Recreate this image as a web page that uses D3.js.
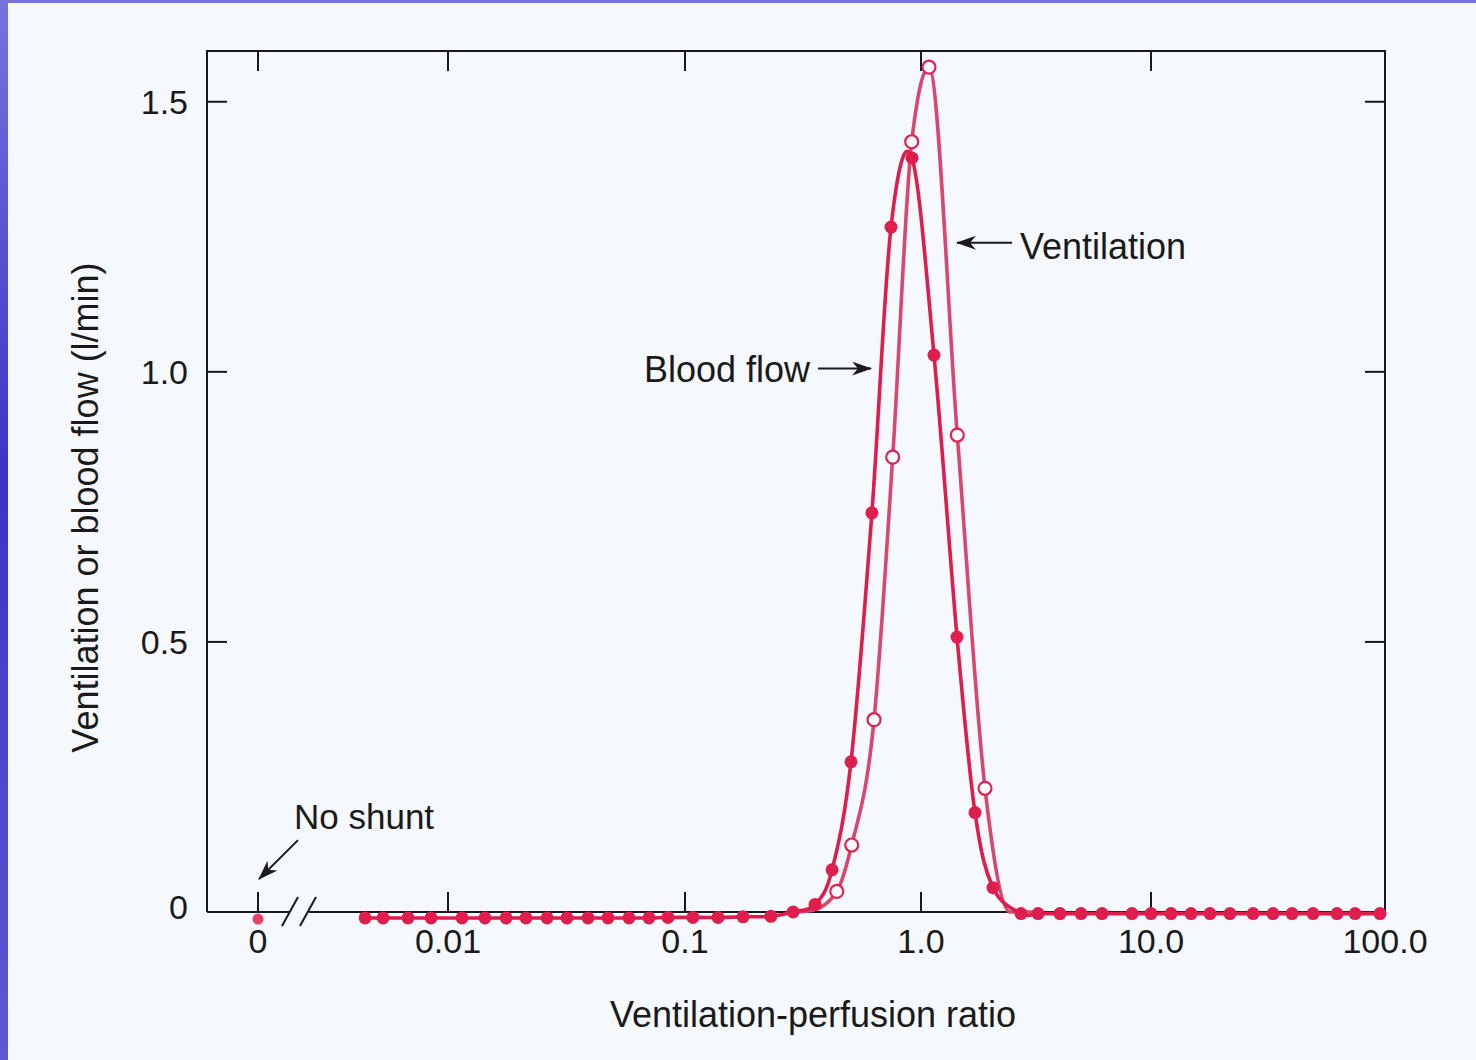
<!DOCTYPE html>
<html>
<head>
<meta charset="utf-8">
<script src="https://cdn.jsdelivr.net/npm/d3@7"></script>
<style>
  body { margin: 0; background: #f5f8fc; }
  svg { display: block; }
  text { font-family: "Liberation Sans", Arial, sans-serif; fill: #1a1a1a; }
</style>
</head>
<body>
<svg></svg>
<script>
// compartments (V/Q ratio)
var ratio = [0.00447, 0.00532, 0.00678, 0.00848, 0.01146, 0.01432, 0.01758, 0.02133, 0.02618, 0.03177,
  0.03898, 0.04731, 0.05804, 0.07047, 0.08475, 0.1081, 0.1380, 0.1762, 0.2312, 0.2871,
  0.3558, 0.4198, 0.5050, 0.6194, 0.7464, 0.9160, 1.139, 1.434, 1.717, 2.056,
  2.722, 3.227, 4.021, 4.963, 6.124, 8.266, 10.0, 12.18, 14.83, 17.87,
  21.75, 27.30, 33.21, 40.07, 49.24, 62.33, 74.50, 95.2];

// blood flow (l/min), filled dots
var bloodFlow = [-0.011, -0.011, -0.011, -0.011, -0.011, -0.011, -0.011, -0.011, -0.011, -0.011,
  -0.011, -0.011, -0.011, -0.011, -0.010, -0.010, -0.010, -0.009, -0.008, 0.0,
  0.014, 0.078, 0.278, 0.739, 1.268, 1.396, 1.031, 0.509, 0.184, 0.045,
  -0.003, -0.003, -0.003, -0.003, -0.003, -0.003, -0.003, -0.003, -0.003, -0.003,
  -0.003, -0.003, -0.003, -0.003, -0.003, -0.003, -0.003, -0.003];

// ventilation (l/min), open circles where it is above zero
var ventRatio = [0.2871, 0.345, 0.4397, 0.5085, 0.6324, 0.7586, 0.9133, 1.083, 1.438, 1.898, 2.438, 3.29];
var ventilation = [0.0, 0.003, 0.038, 0.124, 0.356, 0.842, 1.426, 1.564, 0.883, 0.229, 0.0, 0.0];

var shuntFlow = -0.013;   // the point at V/Q = 0

var xTicks = [0.01, 0.1, 1, 10, 100];
var xTickLabels = ["0.01", "0.1", "1.0", "10.0", "100.0"];
var yTicks = [0, 0.5, 1.0, 1.5];
var yTickLabels = ["0", "0.5", "1.0", "1.5"];

var width = 1476, height = 1060;
var plot = { left: 207, right: 1385, top: 51, bottom: 912 };
var zeroX = plot.left + 51;   // where "0" sits on the broken axis

var svg = d3.select('svg').attr('width', width).attr('height', height);

// blue slide edge on the left and top
var defs = svg.append('defs');
var grad = defs.append('linearGradient')
  .attr('id', 'edge').attr('x1', 0).attr('y1', 0).attr('x2', 0).attr('y2', 1);
grad.append('stop').attr('offset', '0%').attr('stop-color', '#7474dc');
grad.append('stop').attr('offset', '45%').attr('stop-color', '#3a34c6');
grad.append('stop').attr('offset', '100%').attr('stop-color', '#5c5ad2');

svg.append('rect').attr('width', width).attr('height', height).attr('fill', 'url(#edge)');
svg.append('rect').attr('x', 8).attr('y', 3).attr('width', width - 8).attr('height', height - 3)
  .attr('fill', '#f5f8fc');

var marker = defs.append('marker')
  .attr('id', 'head')
  .attr('viewBox', '0 0 20 14')
  .attr('refX', 19).attr('refY', 7)
  .attr('markerWidth', 20).attr('markerHeight', 14)
  .attr('markerUnits', 'userSpaceOnUse')
  .attr('orient', 'auto');
marker.append('path').attr('d', 'M0,0 L20,7 L0,14 L6,7 Z').attr('fill', '#1a1a1a');

// scales
var x = d3.scaleLog()
  .domain(xTicks)
  .range([448, 685, 921, 1151, plot.right]);

var y = d3.scaleLinear()
  .domain([0, 1.594])
  .range([plot.bottom, plot.top]);

// frame
var frame = svg.append('g')
  .attr('stroke', '#1a1a1a')
  .attr('stroke-width', 2)
  .attr('fill', 'none');

frame.append('path')
  .attr('d', 'M' + plot.left + ',' + plot.bottom + 'V' + plot.top + 'H' + plot.right + 'V' + plot.bottom);
frame.append('line')
  .attr('x1', plot.left).attr('x2', zeroX + 32)
  .attr('y1', plot.bottom).attr('y2', plot.bottom);
frame.append('line')
  .attr('x1', zeroX + 51).attr('x2', plot.right)
  .attr('y1', plot.bottom).attr('y2', plot.bottom);

// axis break "//"
[0, 18].forEach(function (off) {
  frame.append('line')
    .attr('x1', zeroX + 24 + off).attr('y1', plot.bottom + 14)
    .attr('x2', zeroX + 40 + off).attr('y2', plot.bottom - 15);
});

// ticks (all pointing inward, the 100 tick is the corner)
var tickLen = 20;
var xTickPos = [zeroX].concat(xTicks.map(function (t) { return x(t) }));
var xTickMarks = xTickPos.slice(0, xTickPos.length - 1);

frame.selectAll('.tb')
  .data(xTickMarks)
  .enter().append('line')
  .attr('x1', function (d) { return d }).attr('x2', function (d) { return d })
  .attr('y1', plot.bottom).attr('y2', plot.bottom - tickLen);

frame.selectAll('.tt')
  .data(xTickMarks)
  .enter().append('line')
  .attr('x1', function (d) { return d }).attr('x2', function (d) { return d })
  .attr('y1', plot.top).attr('y2', plot.top + tickLen);

frame.selectAll('.tl')
  .data(yTicks.slice(1))
  .enter().append('line')
  .attr('x1', plot.left).attr('x2', plot.left + tickLen)
  .attr('y1', function (d) { return y(d) }).attr('y2', function (d) { return y(d) });

frame.selectAll('.tr')
  .data(yTicks.slice(1))
  .enter().append('line')
  .attr('x1', plot.right).attr('x2', plot.right - tickLen)
  .attr('y1', function (d) { return y(d) }).attr('y2', function (d) { return y(d) });

// tick labels
svg.append('g')
  .selectAll('text')
  .data(xTickPos)
  .enter().append('text')
  .attr('x', function (d) { return d })
  .attr('y', plot.bottom + 41)
  .attr('text-anchor', 'middle')
  .attr('font-size', 34)
  .text(function (d, i) { return i === 0 ? '0' : xTickLabels[i - 1] });

svg.append('g')
  .selectAll('text')
  .data(yTicks)
  .enter().append('text')
  .attr('x', plot.left - 19)
  .attr('y', function (d) { return y(d) })
  .attr('dy', function (d) { return d === 0 ? '0.2em' : '0.35em' })
  .attr('text-anchor', 'end')
  .attr('font-size', 34)
  .text(function (d, i) { return yTickLabels[i] });

// axis titles
svg.append('text')
  .attr('transform', 'translate(85,' + ((plot.top + plot.bottom) / 2 + 26) + ') rotate(-90)')
  .attr('dy', '0.35em')
  .attr('text-anchor', 'middle')
  .attr('font-size', 36)
  .text('Ventilation or blood flow (l/min)');

svg.append('text')
  .attr('x', 813)
  .attr('y', plot.bottom + 115)
  .attr('text-anchor', 'middle')
  .attr('font-size', 36)
  .text('Ventilation-perfusion ratio');

// series
var blood = ratio.map(function (r, i) { return { r: r, v: bloodFlow[i] } });
var vent = ventRatio.map(function (r, i) { return { r: r, v: ventilation[i] } });

var bloodLine = d3.line()
  .x(function (d) { return x(d.r) })
  .y(function (d) { return y(d.v) })
  .curve(d3.curveCatmullRom.alpha(0));

var ventLine = d3.line()
  .x(function (d) { return x(d.r) })
  .y(function (d) { return y(d.v) })
  .curve(d3.curveMonotoneX);

svg.append('path')
  .datum(vent)
  .attr('d', ventLine)
  .attr('fill', 'none')
  .attr('stroke', '#d9486c')
  .attr('stroke-width', 3.6);

svg.append('path')
  .datum(blood)
  .attr('d', bloodLine)
  .attr('fill', 'none')
  .attr('stroke', '#df1d4d')
  .attr('stroke-width', 3.6);

svg.append('g')
  .selectAll('circle')
  .data(vent.filter(function (d) { return d.v > 0.01 }))
  .enter().append('circle')
  .attr('cx', function (d) { return x(d.r) })
  .attr('cy', function (d) { return y(d.v) })
  .attr('r', 6.5)
  .attr('fill', '#f8f9fb')
  .attr('stroke', '#dc2452')
  .attr('stroke-width', 2.2);

svg.append('g')
  .selectAll('circle')
  .data(blood)
  .enter().append('circle')
  .attr('cx', function (d) { return x(d.r) })
  .attr('cy', function (d) { return y(d.v) })
  .attr('r', 6.5)
  .attr('fill', '#e01e4e');

svg.append('circle')
  .attr('cx', zeroX)
  .attr('cy', y(shuntFlow))
  .attr('r', 5.5)
  .attr('fill', '#e8406a');

// annotations
function arrow(x1, y1, x2, y2) {
  svg.append('line')
    .attr('x1', x1).attr('y1', y1)
    .attr('x2', x2).attr('y2', y2)
    .attr('stroke', '#1a1a1a')
    .attr('stroke-width', 2)
    .attr('marker-end', 'url(#head)');
}

svg.append('text')
  .attr('x', x(0.3387)).attr('y', y(1.004))
  .attr('dy', '0.35em')
  .attr('text-anchor', 'end')
  .attr('font-size', 36)
  .text('Blood flow');
arrow(x(0.366), y(1.006), x(0.614), y(1.006));

svg.append('text')
  .attr('x', x(2.694)).attr('y', y(1.233))
  .attr('dy', '0.35em')
  .attr('font-size', 36)
  .text('Ventilation');
arrow(x(2.488), y(1.239), x(1.434), y(1.239));

svg.append('text')
  .attr('x', zeroX + 36).attr('y', y(0.154))
  .attr('font-size', 35)
  .text('No shunt');
arrow(zeroX + 40, y(0.133), zeroX + 1, y(0.061));
</script>
</body>
</html>
